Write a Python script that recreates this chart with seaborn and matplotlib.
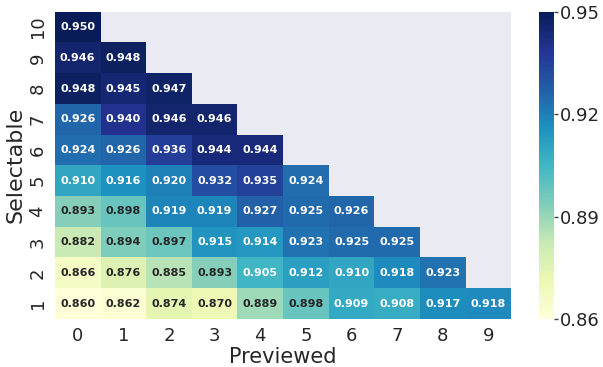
import numpy as np
import pandas as pd
import matplotlib
matplotlib.use("Agg")
import matplotlib.pyplot as plt
import seaborn as sns

previewed = [0, 1, 2, 3, 4, 5, 6, 7, 8, 9]
selectable = [10, 9, 8, 7, 6, 5, 4, 3, 2, 1]

# accuracy per row (Selectable), over Previewed = 0, 1, ...
row_10 = [0.950]
row_9 = [0.946, 0.948]
row_8 = [0.948, 0.945, 0.947]
row_7 = [0.926, 0.940, 0.946, 0.946]
row_6 = [0.924, 0.926, 0.936, 0.944, 0.944]
row_5 = [0.910, 0.916, 0.920, 0.932, 0.935, 0.924]
row_4 = [0.893, 0.898, 0.919, 0.919, 0.927, 0.925, 0.926]
row_3 = [0.882, 0.894, 0.897, 0.915, 0.914, 0.923, 0.925, 0.925]
row_2 = [0.866, 0.876, 0.885, 0.893, 0.905, 0.912, 0.910, 0.918, 0.923]
row_1 = [0.860, 0.862, 0.874, 0.870, 0.889, 0.898, 0.909, 0.908, 0.917, 0.918]

cbar_ticks = [0.86, 0.89, 0.92, 0.95]
cbar_labels = ["0.86", "0.89", "0.92", "0.95"]

rows = [row_10, row_9, row_8, row_7, row_6, row_5, row_4, row_3, row_2, row_1]
grid = np.full((len(selectable), len(previewed)), np.nan)
for i, r in enumerate(rows):
    grid[i, :len(r)] = r
df = pd.DataFrame(grid, index=selectable, columns=previewed)

sns.set_theme(style="darkgrid")
fig = plt.figure(figsize=(6.03, 3.67), dpi=100)
ax = fig.add_axes([0.091, 0.131, 0.757, 0.837])
cax = fig.add_axes([0.894, 0.131, 0.025, 0.837])

sns.heatmap(df, ax=ax, cbar_ax=cax, cmap="YlGnBu", vmin=0.86, vmax=0.95,
            annot=True, fmt=".3f", annot_kws={"size": 8, "weight": "bold"},
            cbar_kws={"ticks": cbar_ticks})
ax.grid(False)
ax.set_xlabel("Previewed", fontsize=15, labelpad=1)
ax.set_ylabel("Selectable", fontsize=16, labelpad=2)
ax.tick_params(axis="both", labelsize=13, length=0, pad=6)
ax.set_yticklabels(ax.get_yticklabels(), rotation=90, va="center")
ax.set_xticklabels(ax.get_xticklabels(), rotation=0)
cax.tick_params(labelsize=13, length=3, width=1, color="#444444", pad=1)
cax.set_yticklabels(cbar_labels)

fig.savefig("out.png", dpi=100)
